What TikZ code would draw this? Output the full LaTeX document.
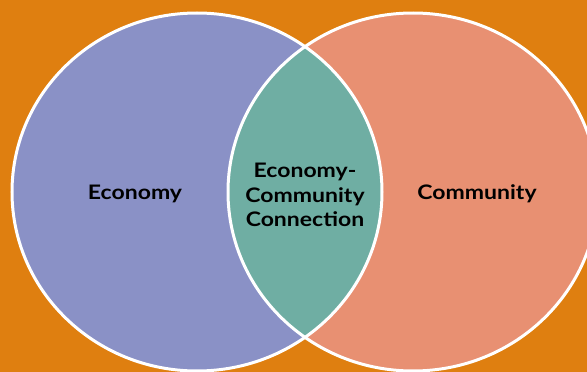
\documentclass[tikz,border=0pt]{standalone}
\usepackage{fontspec}
\setmainfont{Lato}[FakeStretch=1.15]
\begin{document}
\begin{tikzpicture}[x=1pt,y=-1pt,
  setlabel/.style={font=\fontsize{20}{24.5}\selectfont\bfseries, text=black, align=center, inner sep=0pt},
  rim/.style={draw=white, line width=3pt}]
  \definecolor{bgorange}{HTML}{DF7F10}
  \definecolor{econblue}{HTML}{8A91C6}
  \definecolor{commsalmon}{HTML}{E89072}
  \definecolor{overlapteal}{HTML}{6FAEA3}
  % background
  \fill[bgorange] (0,0) rectangle (587,372);
  \useasboundingbox (0,0) rectangle (587,372);
  % the two sets
  \fill[econblue] (197,192) ellipse [x radius=185, y radius=179];
  \fill[commsalmon] (413,192) ellipse [x radius=185, y radius=179];
  % overlap
  \begin{scope}
    \clip (197,192) ellipse [x radius=185, y radius=179];
    \fill[overlapteal] (413,192) ellipse [x radius=185, y radius=179];
  \end{scope}
  % outlines
  \draw[rim] (197,192) ellipse [x radius=185, y radius=179];
  \draw[rim] (413,192) ellipse [x radius=185, y radius=179];
  % labels
  \node[setlabel] (econ) at (135,194) {Economy};
  \node[setlabel] (comm) at (477,194) {Community};
  \node[setlabel] (both) at (305,195) {Economy-\\Community\\Connection};
\end{tikzpicture}
\end{document}
